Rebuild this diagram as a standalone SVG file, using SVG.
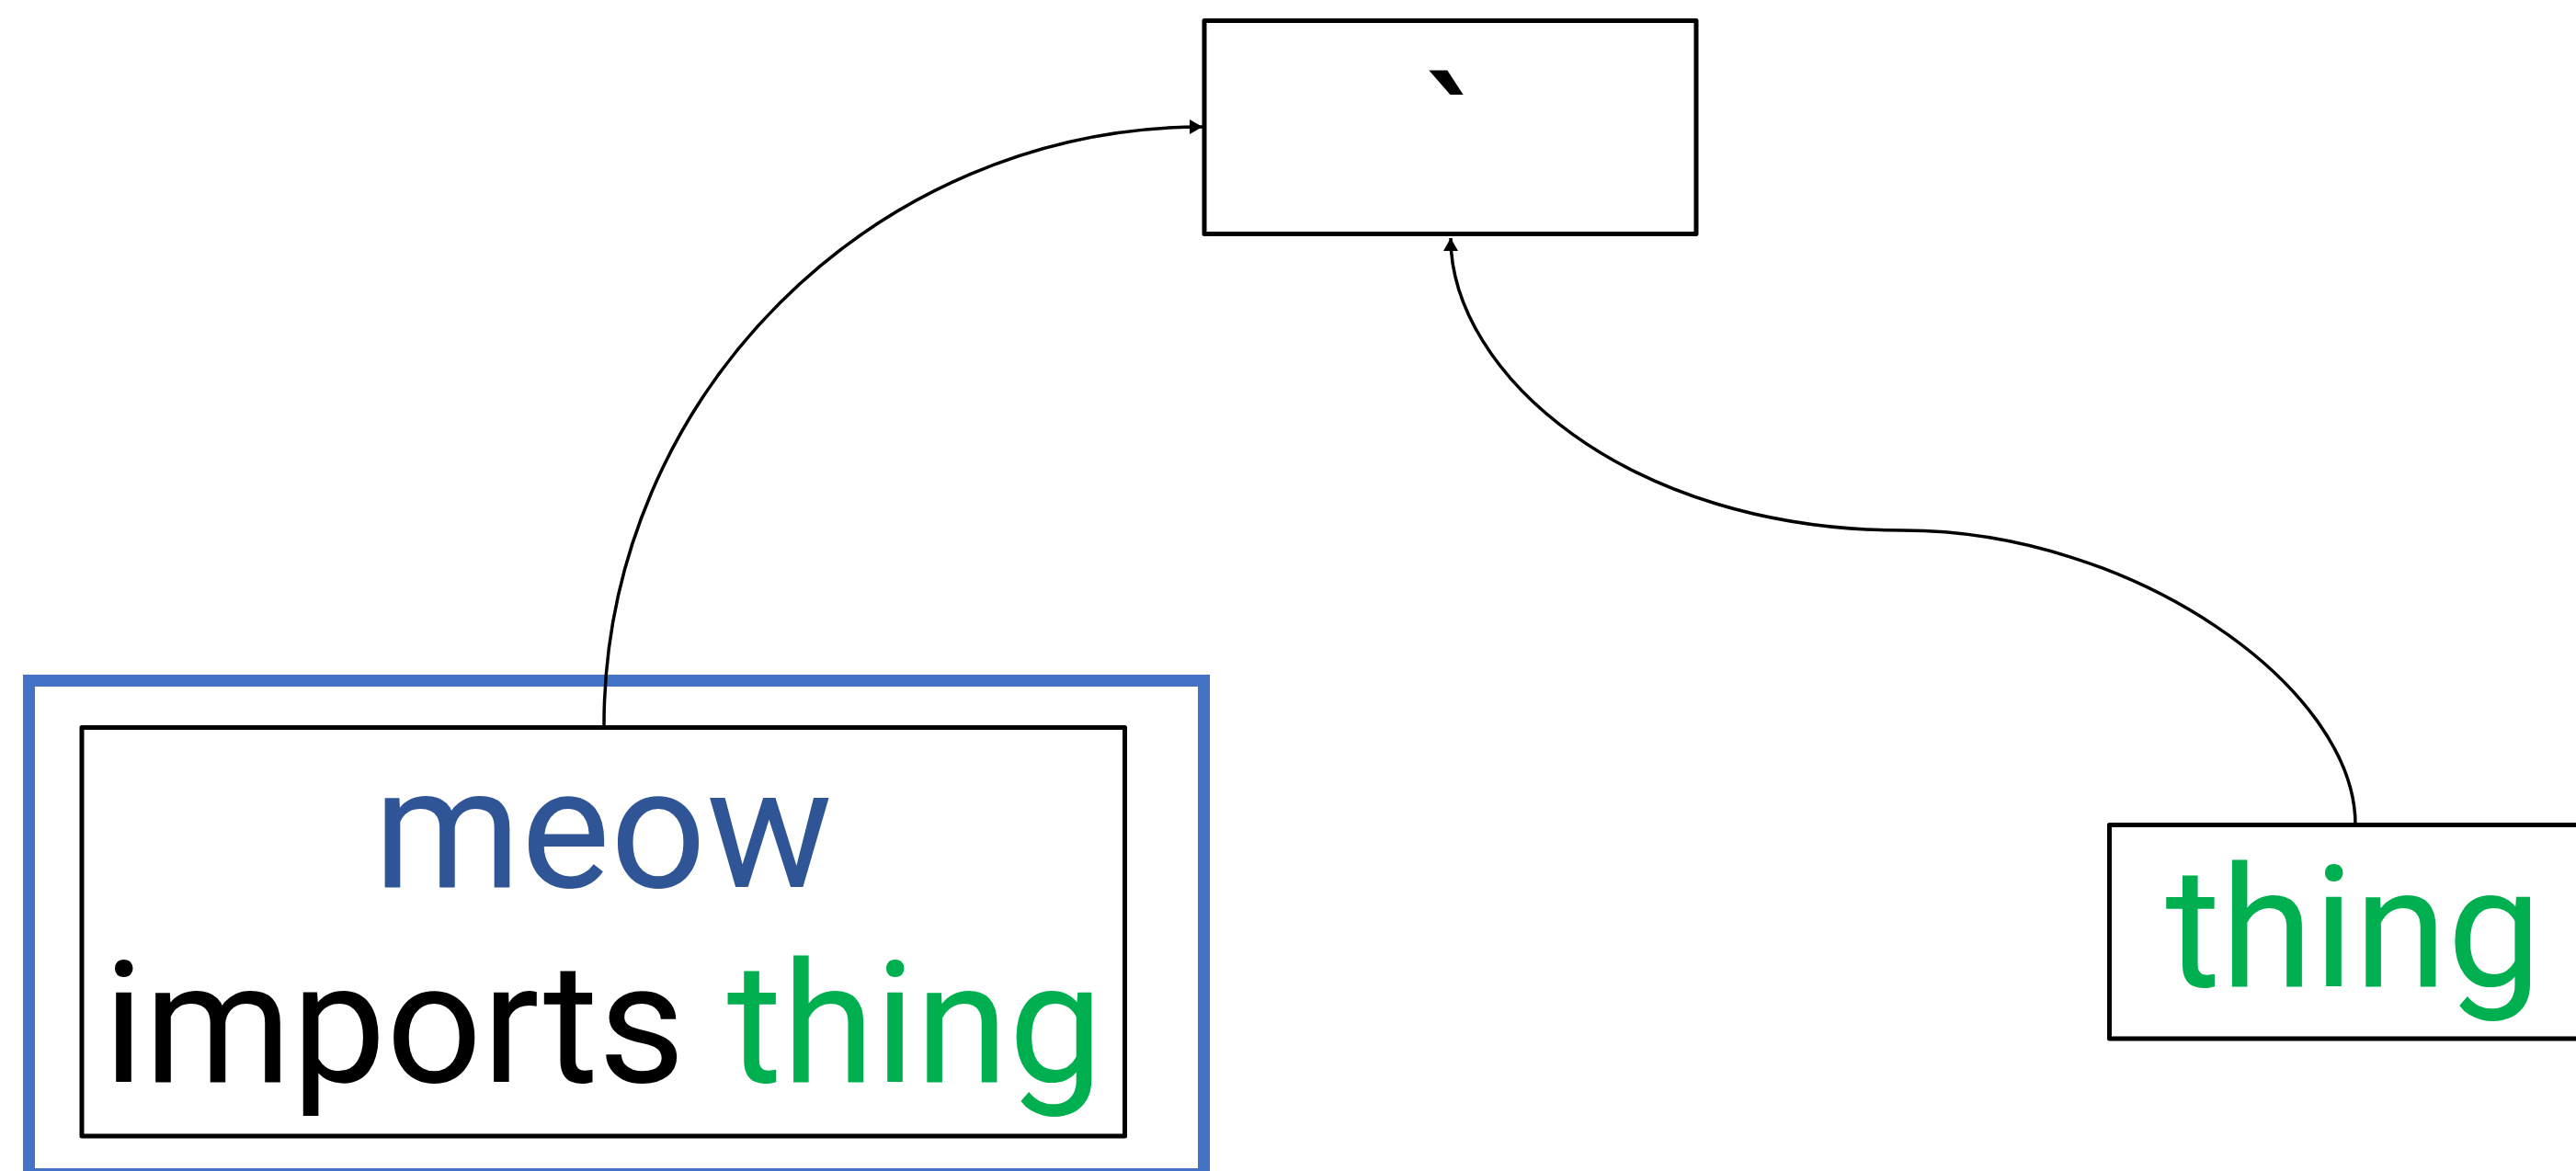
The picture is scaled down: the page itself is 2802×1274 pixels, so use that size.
<svg xmlns="http://www.w3.org/2000/svg" width="2802" height="1274" viewBox="0 0 2802 1274">
  <style>
    .box { fill: #ffffff; stroke: #000000; stroke-width: 5; stroke-linejoin: round; }
    .frame { fill: none; stroke: #4472C4; stroke-width: 13; }
    .label { font-family: Roboto, "Liberation Sans", Arial, sans-serif; font-size: 183px; text-anchor: middle; }
    .edge { fill: none; stroke: #000000; stroke-width: 3.5; }
    .blue { fill: #2F5597; }
    .green { fill: #00B050; }
    .black { fill: #000000; }
  </style>
  <defs>
    <marker id="arrow" viewBox="0 0 14 16" refX="14" refY="8" markerWidth="14" markerHeight="16" markerUnits="userSpaceOnUse" orient="auto">
      <path d="M0,0 L14,8 L0,16 Z" fill="#000000"/>
    </marker>
  </defs>

  <rect width="2802" height="1274" fill="#ffffff"/>

  <!-- group frame around the meow node -->
  <g id="meow-group">
    <rect class="frame" x="31.5" y="740.5" width="1278" height="537"/>
  </g>

  <!-- top node -->
  <g id="node-top">
    <rect class="box" x="1310" y="22.5" width="535" height="232"/>
    <text class="label black" x="1577.5" y="215">`</text>
  </g>

  <!-- meow node -->
  <g id="node-meow">
    <rect class="box" x="89" y="791.5" width="1134.5" height="444.5"/>
    <text class="label blue" x="656" y="965">meow</text>
    <text class="label" x="656" y="1177"><tspan class="black">imports </tspan><tspan class="green">thing</tspan></text>
  </g>

  <!-- thing node -->
  <g id="node-thing">
    <rect class="box" x="2294.5" y="897.5" width="535" height="232.5"/>
    <text class="label green" x="2560" y="1073">thing</text>
  </g>

  <!-- connectors -->
  <g id="edges">
    <path class="edge" marker-end="url(#arrow)" d="M657,789 C657,431 951,138 1308,138"/>
    <path class="edge" marker-end="url(#arrow)" d="M2562,897 C2562,748 2320,577 2070,577 C1770,577 1578,406 1578,259"/>
  </g>
</svg>
